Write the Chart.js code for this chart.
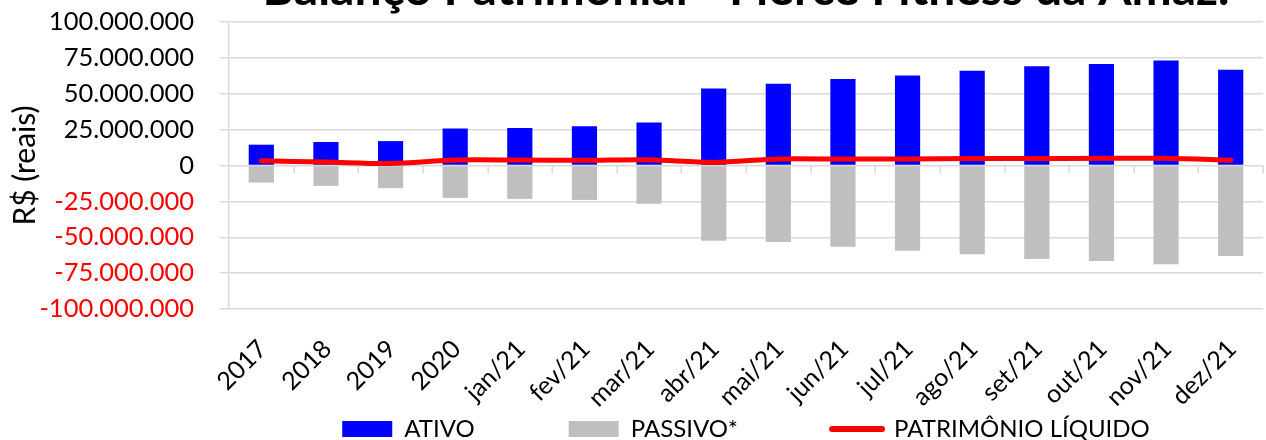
<!DOCTYPE html>
<html>
<head>
<meta charset="utf-8">
<script src="https://cdn.jsdelivr.net/npm/chart.js@4/dist/chart.umd.min.js"></script>
<style>
  html, body { margin: 0; padding: 0; background: #ffffff; }
  #frame { position: relative; width: 1266px; height: 440px; overflow: hidden; background: #fff; }
  #box { position: absolute; left: 0; top: -39px; width: 1266px; height: 490px; }
</style>
</head>
<body>
<div id="frame"><div id="box"><canvas id="c"></canvas></div></div>
<script>
const titleText = 'Balanço Patrimonial - Fierce Fitness da Amaz.';
const yAxisTitle = 'R$ (reais)';
const categories = ['2017','2018','2019','2020','jan/21','fev/21','mar/21','abr/21','mai/21','jun/21','jul/21','ago/21','set/21','out/21','nov/21','dez/21'];
const seriesNames = ['ATIVO', 'PASSIVO*', 'PATRIMÔNIO LÍQUIDO'];
const ativo = [14500000, 16400000, 17000000, 25700000, 26100000, 27300000, 29900000, 53600000, 57000000, 60300000, 62800000, 66100000, 69100000, 70800000, 73100000, 66700000];
const passivo = [-11900000, -14200000, -15800000, -22600000, -23300000, -24000000, -26600000, -52400000, -53300000, -56600000, -59400000, -61900000, -65200000, -66600000, -68900000, -63100000];
const patrimonio = [3300000, 2400000, 1400000, 3800000, 3800000, 3600000, 4000000, 2100000, 4600000, 4500000, 4500000, 4800000, 4800000, 5000000, 5000000, 3700000];
const yMin = -100000000, yMax = 100000000, yStep = 25000000;

function fmt(v) {
  const s = Math.abs(Math.round(v)).toString().replace(/\B(?=(\d{3})+(?!\d))/g, '.');
  return (v < 0 ? '-' : '') + s;
}

Chart.defaults.font.family = 'Lato';
Chart.defaults.color = '#000000';

const zeroTicks = {
  id: 'zeroTicks',
  beforeDatasetsDraw(chart) {
    const x = chart.scales.x, y = chart.scales.y, ctx = chart.ctx;
    const y0 = y.getPixelForValue(0);
    const n = categories.length;
    const half = (x.getPixelForValue(1) - x.getPixelForValue(0)) / 2;
    ctx.save();
    ctx.strokeStyle = '#D9D9D9';
    ctx.lineWidth = 1.5;
    for (let i = 0; i < n; i++) {
      const px = Math.round(x.getPixelForValue(i) + half) + 0.25;
      ctx.beginPath();
      ctx.moveTo(px, y0);
      ctx.lineTo(px, y0 + 8);
      ctx.stroke();
    }
    ctx.restore();
  }
};

new Chart(document.getElementById('c'), {
  data: {
    labels: categories,
    datasets: [
      { type: 'bar', label: seriesNames[0], data: ativo, backgroundColor: '#0000FF', grouped: false, barPercentage: 0.39, categoryPercentage: 1.0, order: 1 },
      { type: 'bar', label: seriesNames[1], data: passivo, backgroundColor: '#BFBFBF', grouped: false, barPercentage: 0.39, categoryPercentage: 1.0, order: 2 },
      { type: 'line', label: seriesNames[2], data: patrimonio, borderColor: '#FF0000', backgroundColor: '#FF0000', borderWidth: 5, pointRadius: 0, pointHoverRadius: 0, tension: 0.3, borderCapStyle: 'round', borderJoinStyle: 'round', fill: false, order: 0 }
    ]
  },
  options: {
    responsive: true,
    maintainAspectRatio: false,
    animation: false,
    layout: { padding: { left: 0, right: 3, top: 0, bottom: 0 } },
    plugins: {
      title: {
        display: true,
        text: titleText,
        fullSize: false,
        font: { size: 48, weight: 'bold', family: 'Lato' },
        color: '#000000',
        padding: { top: 0, bottom: 3.4 }
      },
      legend: {
        display: true,
        position: 'bottom',
        fullSize: false,
        labels: {
          usePointStyle: true,
          pointStyleWidth: 50,
          boxHeight: 16,
          padding: 94,
          color: '#000000',
          font: { size: 24, family: 'Lato' },
          generateLabels(chart) {
            const items = Chart.defaults.plugins.legend.labels.generateLabels(chart);
            items.sort((a, b) => a.datasetIndex - b.datasetIndex);
            return items.map((it) => {
              if (it.datasetIndex === 2) {
                return Object.assign(it, { pointStyle: 'line', strokeStyle: '#FF0000', fillStyle: '#FF0000', lineWidth: 6, lineCap: 'round' });
              }
              return Object.assign(it, { pointStyle: 'rect', lineWidth: 0, strokeStyle: 'rgba(0,0,0,0)' });
            });
          }
        }
      },
      tooltip: { enabled: false }
    },
    scales: {
      x: {
        type: 'category',
        offset: true,
        grid: { display: false, drawTicks: false },
        border: { display: false },
        ticks: { autoSkip: false, maxRotation: 45, minRotation: 45, mirror: true, padding: -46.5, labelOffset: 22.5, font: { size: 25 }, color: '#000000' },
        afterFit(scale) { scale.height = 14; }
      },
      y: {
        min: yMin,
        max: yMax,
        ticks: {
          stepSize: yStep,
          padding: 26,
          font: { size: 25.5 },
          color: (c) => (c.tick && c.tick.value < 0 ? '#FF0000' : '#000000'),
          callback: (v) => fmt(v)
        },
        grid: { color: '#D9D9D9', lineWidth: 1.5, tickLength: 9, drawTicks: true },
        border: { display: true, color: '#D9D9D9', width: 1.5 },
        title: { display: true, text: yAxisTitle, font: { size: 30 }, color: '#000000', padding: { top: 7, bottom: 0 } },
        afterFit(scale) { scale.width = 229; }
      }
    }
  },
  plugins: [zeroTicks]
});
</script>
</body>
</html>
